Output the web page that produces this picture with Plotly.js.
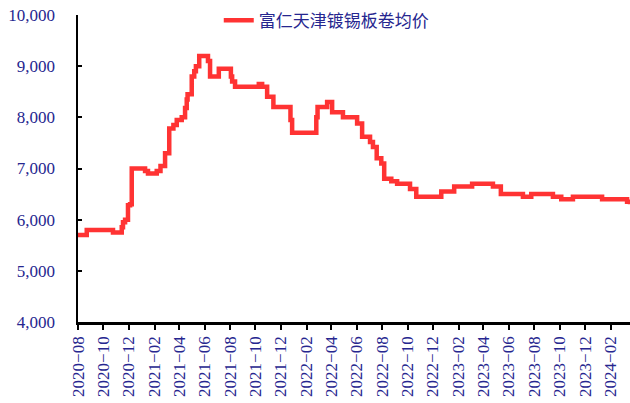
<!DOCTYPE html>
<html>
<head>
<meta charset="utf-8">
<script src="https://cdn.plot.ly/plotly-3.0.1.min.js"></script>
<style>
html,body{margin:0;padding:0;background:#fff;}
#chart{width:630px;height:403px;}
</style>
</head>
<body>
<div id="chart"></div>
<script>
// Series: 富仁天津镀锡板卷均价 (step changes)
const dates = [
  "2020-08-01","2020-08-22","2020-10-24","2020-11-14","2020-11-17","2020-11-22","2020-11-29","2020-12-04","2020-12-08",
  "2021-01-09","2021-01-16","2021-02-06","2021-02-15","2021-02-26","2021-03-08","2021-03-18","2021-03-26","2021-04-07",
  "2021-04-15","2021-04-19","2021-04-21","2021-05-01","2021-05-07","2021-05-11","2021-05-19","2021-06-09","2021-06-14",
  "2021-07-05","2021-08-03","2021-08-06","2021-08-13","2021-08-20","2021-10-09","2021-10-17","2021-10-29","2021-11-13",
  "2021-12-19","2021-12-24","2021-12-28","2022-02-21","2022-02-24","2022-02-27","2022-03-22","2022-04-03","2022-04-29",
  "2022-06-02","2022-06-14","2022-07-03","2022-07-10","2022-07-19","2022-07-30","2022-08-06","2022-08-23","2022-09-06",
  "2022-10-07","2022-10-22","2022-12-21","2023-01-21","2023-03-05","2023-04-24","2023-05-13","2023-07-05","2023-07-25",
  "2023-09-15","2023-10-05","2023-11-02","2024-01-11","2024-03-06","2024-03-11","2024-03-18"
];
const prices = [
  5700,5800,5750,5850,5950,6000,6280,6300,7000,
  6950,6900,6950,7050,7300,7780,7850,7950,8000,
  8180,8350,8450,8800,8900,9000,9200,9100,8800,
  8950,8800,8700,8600,8600,8650,8600,8400,8200,
  8200,7950,7700,7700,8000,8200,8300,8100,8000,
  7880,7620,7520,7420,7200,7100,6800,6750,6700,
  6600,6450,6550,6650,6700,6650,6500,6450,6500,
  6450,6400,6450,6400,6400,6350,6300
];
const seriesName = "富仁天津镀锡板卷均价";
const xTickVals = ["2020-08-01","2020-10-01","2020-12-01","2021-02-01","2021-04-01","2021-06-01","2021-08-01","2021-10-01","2021-12-01",
  "2022-02-01","2022-04-01","2022-06-01","2022-08-01","2022-10-01","2022-12-01","2023-02-01","2023-04-01","2023-06-01",
  "2023-08-01","2023-10-01","2023-12-01","2024-02-01"];
const xTickText = ["2020−08","2020−10","2020−12","2021−02","2021−04","2021−06","2021−08","2021−10","2021−12",
  "2022−02","2022−04","2022−06","2022−08","2022−10","2022−12","2023−02","2023−04","2023−06",
  "2023−08","2023−10","2023−12","2024−02"];
const yTickVals = [4000,5000,6000,7000,8000,9000,10000];
const yTickText = ["4,000","5,000","6,000","7,000","8,000","9,000","10,000"];

const navy = "#26268f";
const serif = "Liberation Serif";
const trace = {
  x: dates, y: prices, type: "scatter", mode: "lines", name: seriesName,
  line: {color: "#ff3333", width: 4.5, shape: "hv"}
};
const layout = {
  width: 630, height: 403,
  margin: {l: 78, r: 0, t: 15, b: 81, pad: 0},
  paper_bgcolor: "#fff", plot_bgcolor: "#fff",
  showlegend: true,
  legend: {x: 0.255, y: 1.04, xanchor: "left", yanchor: "top", bgcolor: "rgba(0,0,0,0)",
    font: {family: "Noto Sans CJK SC", size: 17, color: navy}},
  xaxis: {
    type: "date", range: ["2020-08-01","2024-03-18"],
    tickvals: xTickVals, ticktext: xTickText, tickangle: -90,
    ticks: "outside", ticklen: 5, tickwidth: 2, tickcolor: "#000",
    showline: true, linecolor: "#000", linewidth: 2.5, showgrid: false, zeroline: false,
    tickfont: {family: serif, size: 17, color: navy}
  },
  yaxis: {
    range: [4000, 10000], tickvals: yTickVals, ticktext: yTickText,
    ticks: "inside", ticklen: 4, tickwidth: 2, tickcolor: "#000", ticklabelstandoff: 17,
    showline: true, linecolor: "#000", linewidth: 2.5, showgrid: false, zeroline: false,
    tickfont: {family: serif, size: 17, color: navy}
  }
};
Plotly.newPlot("chart", [trace], layout, {displayModeBar: false, staticPlot: true});
</script>
</body>
</html>
